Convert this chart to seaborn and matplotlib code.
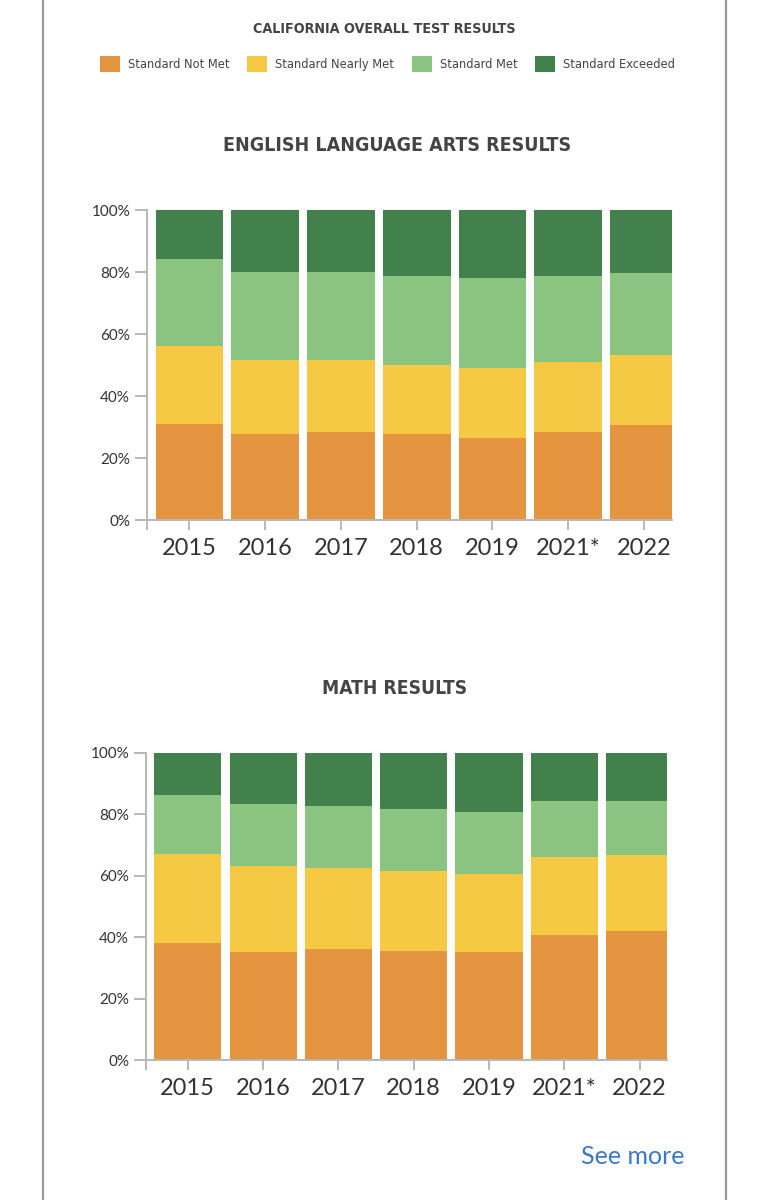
import numpy as np
import pandas as pd
import matplotlib
matplotlib.use("Agg")
import matplotlib.pyplot as plt
import seaborn as sns
from matplotlib import font_manager as fm
from matplotlib.patches import Patch
from matplotlib.lines import Line2D

# ---------------- data ----------------
years = ["2015", "2016", "2017", "2018", "2019", "2021*", "2022"]
levels = ["Standard Not Met", "Standard Nearly Met", "Standard Met", "Standard Exceeded"]

ela_not_met = [31.0, 27.6, 28.5, 27.6, 26.5, 28.5, 30.6]
ela_nearly_met = [25.1, 24.1, 23.2, 22.5, 22.6, 22.6, 22.5]
ela_met = [28.0, 28.3, 28.3, 28.5, 29.1, 27.5, 26.5]
ela_exceeded = [15.9, 20.0, 20.0, 21.4, 21.8, 21.4, 20.4]

math_not_met = [38.1, 35.1, 36.0, 35.6, 35.1, 40.6, 42.1]
math_nearly_met = [29.0, 28.0, 26.6, 26.0, 25.4, 25.6, 24.5]
math_met = [19.0, 20.1, 20.0, 20.1, 20.2, 18.0, 17.6]
math_exceeded = [13.9, 16.8, 17.4, 18.3, 19.3, 15.8, 15.8]

yticks = [0, 20, 40, 60, 80, 100]
ytick_labels = ["0%", "20%", "40%", "60%", "80%", "100%"]

main_title = "CALIFORNIA OVERALL TEST RESULTS"
ela_title = "ENGLISH LANGUAGE ARTS RESULTS"
math_title = "MATH RESULTS"
link_text = "See more"

colors = ["#E5953F", "#F6C944", "#8BC481", "#42814B"]

# ---------------- style ----------------
sns.set_style("white")
names = {f.name for f in fm.fontManager.ttflist}
if "Liberation Sans Narrow" in names:
    COND = "Liberation Sans Narrow"
    STRETCH = "normal"
else:
    COND = "DejaVu Sans"
    STRETCH = "condensed"
TICKF = "Lato" if "Lato" in names else "DejaVu Sans"
plt.rcParams["font.family"] = [TICKF, "DejaVu Sans"]

W, H = 773, 1200
fig = plt.figure(figsize=(W / 100, H / 100), dpi=100)
fig.patch.set_facecolor("white")

AX_COLOR = "#b8b8b8"
TXT = "#333333"
TITLE_C = "#444444"


def px_rect(l, r, b, t):
    return [l / W, 1 - b / H, (r - l) / W, (b - t) / H]


def draw(ax, parts, xl, xr, width):
    cums = np.cumsum(np.array(parts, dtype=float), axis=0)
    for lvl, c, cv in reversed(list(zip(levels, colors, cums))):
        d = pd.DataFrame({"year": years, "value": cv})
        sns.barplot(data=d, x="year", y="value", order=years, color=c,
                    saturation=1, width=width, errorbar=None, ax=ax,
                    linewidth=0)
    ax.set_xlim(xl, xr)
    ax.set_ylim(0, 100)
    ax.set_xlabel("")
    ax.set_ylabel("")
    ax.set_yticks(yticks, ytick_labels)
    ax.set_xticks([xl] + list(range(len(years))), [""] + years)
    for s in ["top", "right"]:
        ax.spines[s].set_visible(False)
    for s in ["left", "bottom"]:
        ax.spines[s].set_color(AX_COLOR)
        ax.spines[s].set_linewidth(1.4)
    ax.tick_params(axis="y", length=9, width=1.4, color=AX_COLOR,
                   labelsize=11, labelcolor=TXT, pad=3, left=True)
    ax.tick_params(axis="x", length=7, width=1.4, color=AX_COLOR,
                   labelsize=17, labelcolor=TXT, pad=6, bottom=True)


ax1 = fig.add_axes(px_rect(146.7, 671.7, 520, 210))
draw(ax1, [ela_not_met, ela_nearly_met, ela_met, ela_exceeded], -0.565, 6.366, 0.894)

ax2 = fig.add_axes(px_rect(145.7, 666.7, 1060, 752.7))
draw(ax2, [math_not_met, math_nearly_met, math_met, math_exceeded], -0.559, 6.36, 0.89)

# titles
fig.text(384.7 / W, 1 - 33.3 / H, main_title, ha="center", va="baseline",
         fontsize=10.3, fontweight="bold", family=COND, fontstretch=STRETCH,
         color=TITLE_C)
fig.text(397 / W, 1 - 150.7 / H, ela_title, ha="center", va="baseline",
         fontsize=14.0, fontweight="bold", family=COND, fontstretch=STRETCH,
         color=TITLE_C)
fig.text(394.7 / W, 1 - 694.3 / H, math_title, ha="center", va="baseline",
         fontsize=13.8, fontweight="bold", family=COND, fontstretch=STRETCH,
         color=TITLE_C)

# legend
handles = [Patch(facecolor=c, edgecolor="none", label=l) for c, l in zip(colors, levels)]
fs = 9.2
pxfs = fs * 100 / 72
leg = fig.legend(handles=handles, loc="center", ncol=4,
                 bbox_to_anchor=(387.5 / W, 1 - 64 / H),
                 frameon=False, prop={"family": COND, "stretch": STRETCH, "size": fs},
                 handlelength=20 / pxfs, handleheight=20 / pxfs,
                 handletextpad=7.6 / pxfs, columnspacing=18 / pxfs,
                 borderpad=0, borderaxespad=0)
for t in leg.get_texts():
    t.set_color("#444444")

# link
fig.text(632.5 / W, 1 - 1156 / H, link_text, ha="center", va="center",
         fontsize=18, color="#3B78C6", family=TICKF)

# frame lines
for x in [43, 726]:
    fig.add_artist(Line2D([x / W, x / W], [0, 1], transform=fig.transFigure,
                          color="#999999", lw=1.6))

fig.savefig("out.png", dpi=100, facecolor="white")
